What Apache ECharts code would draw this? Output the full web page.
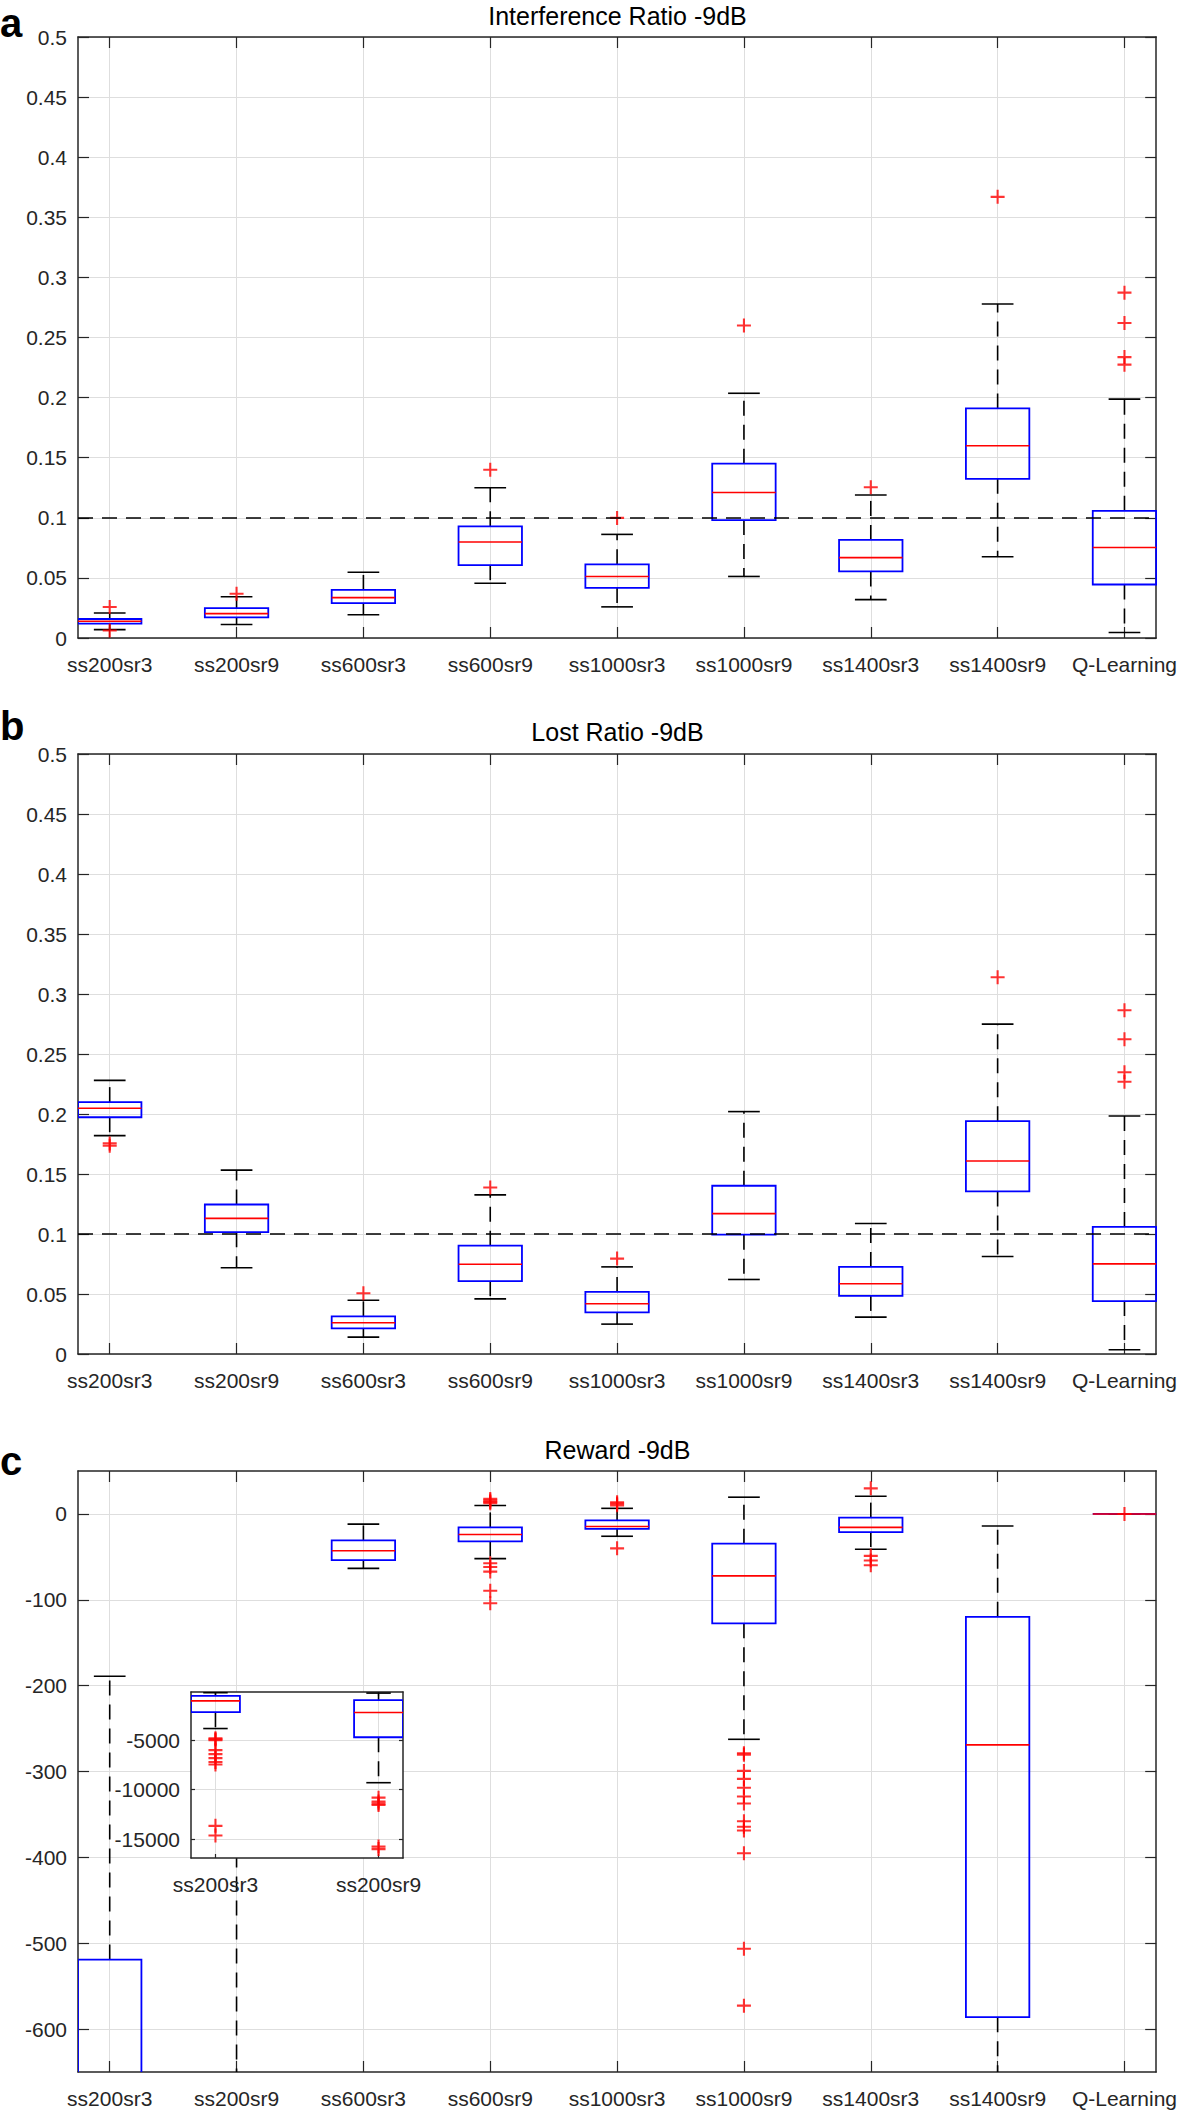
<!DOCTYPE html>
<html><head><meta charset="utf-8">
<script src="https://cdn.jsdelivr.net/npm/echarts@6/dist/echarts.min.js"></script>
<style>html,body{margin:0;padding:0;background:#fff;} #chart{width:1180px;height:2110px;}</style>
</head><body><div id="chart"></div>
<script>
// ---------------- DATA ----------------
const categories = ['ss200sr3','ss200sr9','ss600sr3','ss600sr9','ss1000sr3','ss1000sr9','ss1400sr3','ss1400sr9','Q-Learning'];
const categoryPositions = [1,2,3,4,5,6,7,8,9];
const thresholdValue = 0.1;

// (a) Interference Ratio -9dB
const interfLowerWhisker = [0.0070, 0.0112, 0.0193, 0.0455, 0.0259, 0.0512, 0.0319, 0.0676, 0.0046];
const interfQ1           = [0.0120, 0.0172, 0.0290, 0.0606, 0.0417, 0.0981, 0.0554, 0.1324, 0.0445];
const interfMedian       = [0.0139, 0.0203, 0.0336, 0.0799, 0.0512, 0.1210, 0.0669, 0.1600, 0.0753];
const interfQ3           = [0.0158, 0.0249, 0.0400, 0.0929, 0.0613, 0.1450, 0.0816, 0.1910, 0.1058];
const interfUpperWhisker = [0.0208, 0.0343, 0.0547, 0.1250, 0.0862, 0.2036, 0.1190, 0.2779, 0.1987];
const interfOutliers = [[1,0.0258],[1,0.0062],[2,0.0368],[4,0.140],[5,0.0999],[6,0.260],[7,0.1254],[8,0.367],
  [9,0.2873],[9,0.2621],[9,0.2337],[9,0.2274]];

// (b) Lost Ratio -9dB
const lostLowerWhisker = [0.1820, 0.0719, 0.0141, 0.0459, 0.0249, 0.0621, 0.0307, 0.0813, 0.0036];
const lostQ1           = [0.1973, 0.1015, 0.0213, 0.0607, 0.0347, 0.0994, 0.0484, 0.1355, 0.0441];
const lostMedian       = [0.2048, 0.1130, 0.0260, 0.0748, 0.0419, 0.1170, 0.0585, 0.1608, 0.0751];
const lostQ3           = [0.2099, 0.1246, 0.0314, 0.0903, 0.0517, 0.1402, 0.0726, 0.1940, 0.1059];
const lostUpperWhisker = [0.2280, 0.1532, 0.0448, 0.1326, 0.0726, 0.2020, 0.1087, 0.2749, 0.1983];
const lostOutliers = [[1,0.1755],[1,0.1735],[3,0.0506],[4,0.1387],[5,0.0795],[8,0.314],
  [9,0.2865],[9,0.2623],[9,0.2348],[9,0.2269]];

// (c) Reward -9dB
const rewardLowerWhisker = [-3813, -9288, -63.4, -52.1, -26.0, -262.5, -41.2, -720, 0];
const rewardQ1           = [-2160, -4695, -53.7, -32.0, -17.4, -127.4, -21.1, -586.2, 0];
const rewardMedian       = [-1014, -2190, -42.8, -23.9, -14.6, -72.1, -15.7, -269.0, 0];
const rewardQ3           = [-519, -943, -30.9, -15.7, -7.6, -34.7, -4.3, -119.8, 0];
const rewardUpperWhisker = [-189, -230, -11.9, 9.8, 6.5, 19.5, 20.6, -14.1, 0];
const rewardOutliers = [
  [1,-4800],[1,-4900],[1,-5000],[1,-6000],[1,-6400],[1,-6800],[1,-7200],[1,-7450],[1,-13650],[1,-14630],
  [2,-10800],[2,-11200],[2,-11400],[2,-11550],[2,-15750],[2,-16000],
  [4,17.5],[4,15.5],[4,14],[4,12.5],[4,-57.5],[4,-61.8],[4,-67.2],[4,-89.5],[4,-104],
  [5,13.5],[5,12],[5,10],[5,-40.1],
  [6,-278.7],[6,-280.4],[6,-299.3],[6,-308.6],[6,-318.9],[6,-329.2],[6,-337.3],[6,-357.9],[6,-364.4],[6,-368.8],[6,-395.3],[6,-506.5],[6,-572.7],
  [7,29.8],[7,-48.8],[7,-54.2],[7,-59.7],
  [9,0]
];

// tick labels
const ratioYTicks = [0, 0.05, 0.1, 0.15, 0.2, 0.25, 0.3, 0.35, 0.4, 0.45, 0.5];
const rewardYTicks = [-600, -500, -400, -300, -200, -100, 0];
const insetYTicks = [-15000, -10000, -5000];
const insetXTicks = [1, 2];

// ---------------- STYLE / HELPERS ----------------
const FONT = 'Liberation Sans, Arial, Helvetica, sans-serif';
const AX = '#262626';
const GRIDC = '#dedede';
const LABEL_SIZE = 21;
const PLUS = 'path://M8.5,0H11.5V8.5H20V11.5H11.5V20H8.5V11.5H0V8.5H8.5Z';

function buildBoxData(lo, q1, med, q3, hi, idxs) {
  return idxs.map(i => [categoryPositions[i], lo[i], q1[i], med[i], q3[i], hi[i]]);
}
const all = [0,1,2,3,4,5,6,7,8];

function boxRenderer(halfW, capHalf, lw) {
  return function (params, api) {
    const x = api.value(0);
    const lo = api.value(1), q1 = api.value(2), med = api.value(3), q3 = api.value(4), hi = api.value(5);
    const pQ3 = api.coord([x, q3]), pQ1 = api.coord([x, q1]);
    const pHi = api.coord([x, hi]), pLo = api.coord([x, lo]), pMed = api.coord([x, med]);
    const left = api.coord([x - halfW, q3])[0], right = api.coord([x + halfW, q3])[0];
    const capL = api.coord([x - capHalf, hi])[0], capR = api.coord([x + capHalf, hi])[0];
    const dash = {stroke: '#000', lineWidth: lw, lineDash: [15, 9], fill: null};
    const solid = {stroke: '#000', lineWidth: lw, fill: null};
    return {type: 'group', children: [
      {type: 'line', shape: {x1: pQ3[0], y1: pQ3[1], x2: pHi[0], y2: pHi[1]}, style: dash},
      {type: 'line', shape: {x1: pQ1[0], y1: pQ1[1], x2: pLo[0], y2: pLo[1]}, style: dash},
      {type: 'line', shape: {x1: capL, y1: pHi[1], x2: capR, y2: pHi[1]}, style: solid},
      {type: 'line', shape: {x1: capL, y1: pLo[1], x2: capR, y2: pLo[1]}, style: solid},
      {type: 'rect', shape: {x: left, y: pQ3[1], width: right - left, height: pQ1[1] - pQ3[1]},
        style: {fill: 'none', stroke: '#0000ff', lineWidth: 1.8}},
      {type: 'line', shape: {x1: left, y1: pMed[1], x2: right, y2: pMed[1]}, style: {stroke: '#ff0000', lineWidth: 1.6}}
    ]};
  };
}

function xAxes(gridIndex, min, max, ticks, tickLen, z) {
  return [
    {type: 'value', gridIndex, position: 'bottom', min, max, z,
      axisLine: {show: true, onZero: false, lineStyle: {color: AX, width: 1.5}},
      axisTick: {show: true, inside: true, length: tickLen, customValues: ticks, lineStyle: {color: AX, width: 1.2}},
      axisLabel: {show: true, customValues: ticks, margin: 16, color: AX, fontSize: LABEL_SIZE, fontFamily: FONT,
        formatter: v => categories[Math.round(v) - 1]},
      splitLine: {show: true, lineStyle: {color: GRIDC, width: 1}}},
    {type: 'value', gridIndex, position: 'top', min, max, z,
      axisLine: {show: true, onZero: false, lineStyle: {color: AX, width: 1.5}},
      axisTick: {show: true, inside: true, length: tickLen, customValues: ticks, lineStyle: {color: AX, width: 1.2}},
      axisLabel: {show: false}, splitLine: {show: false}}
  ];
}
function yAxes(gridIndex, min, max, ticks, tickLen, z) {
  return [
    {type: 'value', gridIndex, position: 'left', min, max, z,
      axisLine: {show: true, onZero: false, lineStyle: {color: AX, width: 1.5}},
      axisTick: {show: true, inside: true, length: tickLen, customValues: ticks, lineStyle: {color: AX, width: 1.2}},
      axisLabel: {show: true, customValues: ticks, margin: 11, color: AX, fontSize: LABEL_SIZE, fontFamily: FONT,
        formatter: v => String(v)},
      splitLine: {show: true, lineStyle: {color: GRIDC, width: 1}}},
    {type: 'value', gridIndex, position: 'right', min, max, z,
      axisLine: {show: true, onZero: false, lineStyle: {color: AX, width: 1.5}},
      axisTick: {show: true, inside: true, length: tickLen, customValues: ticks, lineStyle: {color: AX, width: 1.2}},
      axisLabel: {show: false}, splitLine: {show: false}}
  ];
}

function panelSeries(axisIdx, boxData, outliers, threshold, halfW, capHalf, z, lw) {
  const s = [{
    type: 'custom', xAxisIndex: axisIdx, yAxisIndex: axisIdx, clip: true, z: z,
    renderItem: boxRenderer(halfW, capHalf, lw), data: boxData, silent: true
  }, {
    type: 'scatter', xAxisIndex: axisIdx, yAxisIndex: axisIdx, clip: true, z: z + 1,
    symbol: PLUS, symbolSize: 14, itemStyle: {color: '#ff0000'}, data: outliers, silent: true
  }];
  if (threshold !== null) {
    s[0].markLine = {silent: true, symbol: 'none', label: {show: false},
      lineStyle: {color: '#000', type: [15, 9], width: 1.5},
      data: [{yAxis: threshold}]};
  }
  return s;
}

const titleStyle = {fontSize: 25, fontWeight: 'normal', color: '#000', fontFamily: FONT};
const letterStyle = {fontSize: 40, fontWeight: 'bold', color: '#000', fontFamily: FONT};
const plotCenter = 617.5;

const option = {
  backgroundColor: '#fff',
  animation: false,
  title: [
    {text: 'Interference Ratio -9dB', left: plotCenter, top: 16, textAlign: 'center', textVerticalAlign: 'middle', padding: 0, textStyle: titleStyle},
    {text: 'Lost Ratio -9dB', left: plotCenter, top: 732, textAlign: 'center', textVerticalAlign: 'middle', padding: 0, textStyle: titleStyle},
    {text: 'Reward -9dB', left: plotCenter, top: 1450, textAlign: 'center', textVerticalAlign: 'middle', padding: 0, textStyle: titleStyle},
    {text: 'a', left: 0, top: 23, textAlign: 'left', textVerticalAlign: 'middle', padding: 0, textStyle: letterStyle},
    {text: 'b', left: 0, top: 726, textAlign: 'left', textVerticalAlign: 'middle', padding: 0, textStyle: letterStyle},
    {text: 'c', left: 0, top: 1461, textAlign: 'left', textVerticalAlign: 'middle', padding: 0, textStyle: letterStyle}
  ],
  grid: [
    {left: 78, top: 37, width: 1079, height: 601, containLabel: false},
    {left: 78, top: 754, width: 1079, height: 600, containLabel: false},
    {left: 78, top: 1471, width: 1079, height: 601, containLabel: false},
    {left: 191, top: 1692, width: 212, height: 166, containLabel: false, show: true, z: 10,
      backgroundColor: '#fff', borderWidth: 0}
  ],
  xAxis: [].concat(
    xAxes(0, 0.75, 9.25, categoryPositions, 11, 0),
    xAxes(1, 0.75, 9.25, categoryPositions, 11, 0),
    xAxes(2, 0.75, 9.25, categoryPositions, 11, 0),
    xAxes(3, 0.85, 2.15, insetXTicks, 4, 11)
  ),
  yAxis: [].concat(
    yAxes(0, 0, 0.5, ratioYTicks, 11, 0),
    yAxes(1, 0, 0.5, ratioYTicks, 11, 0),
    yAxes(2, -650, 50, rewardYTicks, 11, 0),
    yAxes(3, -16900, -120, insetYTicks, 4, 11)
  ),
  series: [].concat(
    panelSeries(0, buildBoxData(interfLowerWhisker, interfQ1, interfMedian, interfQ3, interfUpperWhisker, all), interfOutliers, thresholdValue, 0.25, 0.125, 2, 1.6),
    panelSeries(2, buildBoxData(lostLowerWhisker, lostQ1, lostMedian, lostQ3, lostUpperWhisker, all), lostOutliers, thresholdValue, 0.25, 0.125, 2, 1.6),
    panelSeries(4, buildBoxData(rewardLowerWhisker, rewardQ1, rewardMedian, rewardQ3, rewardUpperWhisker, all), rewardOutliers, null, 0.25, 0.125, 2, 1.6),
    panelSeries(6, buildBoxData(rewardLowerWhisker, rewardQ1, rewardMedian, rewardQ3, rewardUpperWhisker, [0, 1]),
      rewardOutliers.filter(d => d[0] <= 2), null, 0.15, 0.075, 12, 1.6)
  )
};

const chart = echarts.init(document.getElementById('chart'), null, {renderer: 'svg', width: 1180, height: 2110});
chart.setOption(option);
</script></body></html>
